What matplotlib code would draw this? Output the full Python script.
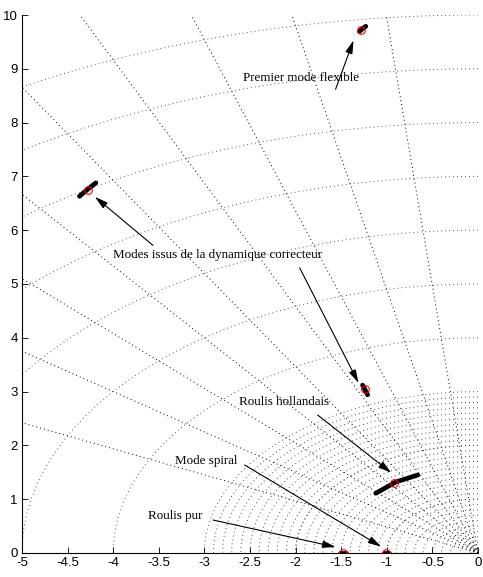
#!/usr/bin/env python3
# pole map of the closed loop with sgrid-like damping / frequency grid

import numpy as np
import matplotlib
matplotlib.use('Agg')
import matplotlib.pyplot as plt


# +
# data
# -
POLE_RE = [-1.287, -4.277, -1.243, -0.915, -1.006, -1.480]
POLE_IM = [9.72, 6.75, 3.05, 1.31, 0.0, 0.0]

# root locus branches (short pieces around each pole)
BRANCH_RE = [[-1.30, -1.27, -1.23], [-4.37, -4.28, -4.19], [-1.265, -1.24, -1.21],
             [-1.12, -0.90, -0.66], [-1.03, -1.00, -0.98], [-1.51, -1.48, -1.45]]
BRANCH_IM = [[9.69, 9.74, 9.79], [6.63, 6.76, 6.88], [3.12, 3.04, 2.94],
             [1.11, 1.32, 1.45], [0.0, 0.0, 0.0], [0.0, 0.0, 0.0]]

ZETA = [0.0, 0.1, 0.2, 0.3, 0.4, 0.5, 0.6, 0.7, 0.8, 0.9, 1.0]
WN = [1, 2, 3, 4, 5, 6, 7, 8, 9, 10]
WN_FINE = [0.025, 0.05, 0.075] + [round(0.1 * k, 1) for k in range(1, 30)]

X_TICKS = [-5, -4.5, -4, -3.5, -3, -2.5, -2, -1.5, -1, -0.5, 0]
Y_TICKS = [0, 1, 2, 3, 4, 5, 6, 7, 8, 9, 10]

LABELS = ['Premier mode flexible', 'Modes issus de la dynamique correcteur',
          'Roulis hollandais', 'Mode spiral', 'Roulis pur']


# +
# figure
# -
fig = plt.figure(figsize=(4.83, 5.77), dpi=100)
ax = fig.add_axes([0.0455, 0.0416, 0.944, 0.9324])

DOT = (0, (1, 3.1))
_t = np.linspace(np.pi / 2, np.pi, 400)

# frequency circles
for _w in WN:
    ax.plot(_w * np.cos(_t), _w * np.sin(_t), color='0.35', lw=0.7, ls=DOT, zorder=1)
for _w in WN_FINE:
    ax.plot(_w * np.cos(_t), _w * np.sin(_t), color='0.3', lw=0.7, ls=DOT, zorder=1)

# damping rays
for _z in ZETA:
    _a = np.arccos(_z)
    ax.plot([0, -15 * np.cos(_a)], [0, 15 * np.sin(_a)], color='k', lw=0.7, ls=DOT, zorder=1)

# locus + poles
for _bx, _by in zip(BRANCH_RE, BRANCH_IM):
    ax.plot(_bx, _by, color='k', lw=3.4, solid_capstyle='round', zorder=3)
ax.plot(POLE_RE, POLE_IM, 'o', mfc='none', mec='r', ms=5.5, mew=0.8, zorder=4)

# annotations
_arrow = dict(arrowstyle='-|>,head_length=0.8,head_width=0.22', color='k', lw=0.8,
              mutation_scale=10, shrinkA=0, shrinkB=0)
_txt = dict(fontsize=9.4, family='Liberation Serif', ha='center', va='center')
ax.annotate('', xy=(-1.364, 9.53), xytext=(-1.561, 8.62), arrowprops=_arrow)
ax.text(-1.94, 8.82, LABELS[0], **_txt)
ax.annotate('', xy=(-4.20, 6.62), xytext=(-3.565, 5.72), arrowprops=_arrow)
ax.annotate('', xy=(-1.309, 3.16), xytext=(-1.955, 5.30), arrowprops=_arrow)
ax.text(-2.86, 5.54, LABELS[1], **_txt)
ax.annotate('', xy=(-0.95, 1.49), xytext=(-1.758, 2.565), arrowprops=_arrow)
ax.text(-2.125, 2.81, LABELS[2], **_txt)
ax.annotate('', xy=(-1.06, 0.117), xytext=(-2.558, 1.636), arrowprops=_arrow)
ax.text(-2.98, 1.715, LABELS[3], **_txt)
ax.annotate('', xy=(-1.56, 0.11), xytext=(-2.905, 0.613), arrowprops=_arrow)
ax.text(-3.324, 0.688, LABELS[4], **_txt)

# axes
ax.set_xlim(-5, 0)
ax.set_ylim(0, 10)
ax.set_xticks(X_TICKS)
ax.set_xticklabels(['-5', '-4.5', '-4', '-3.5', '-3', '-2.5', '-2', '-1.5', '-1', '-0.5', '0'])
ax.set_yticks(Y_TICKS)
ax.spines['top'].set_visible(False)
ax.spines['right'].set_visible(False)
ax.spines['left'].set_linewidth(0.8)
ax.spines['bottom'].set_linewidth(0.8)
ax.tick_params(direction='in', length=4, width=0.6, labelsize=9.5, pad=3)
for _l in ax.get_xticklabels() + ax.get_yticklabels():
    _l.set_family('Liberation Sans')

fig.savefig('out.png', dpi=100)
